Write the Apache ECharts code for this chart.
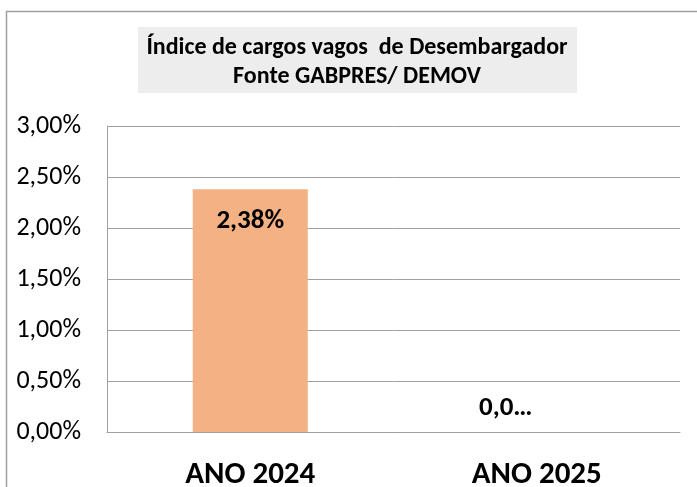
<!DOCTYPE html>
<html>
<head>
<meta charset="utf-8">
<script src="https://cdn.jsdelivr.net/npm/echarts@6/dist/echarts.min.js"></script>
<style>
  html, body { margin: 0; padding: 0; background: #fff; }
  #main { width: 697px; height: 487px; }
</style>
</head>
<body>
<div id="main"></div>
<script>
const categories = ['ANO 2024', 'ANO 2025'];
const values = [0.0238, 0];
const valueLabels = ['2,38%', '0,0…'];
const titleLines = ['Índice de cargos vagos  de Desembargador', 'Fonte GABPRES/ DEMOV'];

const font = 'Carlito, Lato, sans-serif';
const chart = echarts.init(document.getElementById('main'));

const option = {
  animation: false,
  backgroundColor: '#fff',
  graphic: [
    {
      type: 'rect',
      shape: { x: 6.5, y: 11.5, width: 720, height: 520 },
      style: { fill: 'none', stroke: '#a0a0a0', lineWidth: 1.5 },
      silent: true
    },
    {
      type: 'rect',
      shape: { x: 138, y: 27, width: 439, height: 66 },
      style: { fill: '#ededed' },
      silent: true
    },
    {
      type: 'text',
      x: 357,
      y: 62,
      style: {
        text: titleLines.join('\n'),
        font: 'bold 24px ' + font,
        fill: '#000',
        align: 'center',
        verticalAlign: 'middle',
        lineHeight: 29
      },
      silent: true
    }
  ],
  grid: { left: 107, right: 17, top: 126, bottom: 55, outerBoundsMode: 'none', containLabel: false },
  xAxis: {
    type: 'category',
    data: categories,
    axisLine: { lineStyle: { color: '#a0a0a0', width: 1 } },
    axisTick: { show: false },
    axisLabel: {
      margin: 28,
      color: '#000',
      fontFamily: font,
      fontWeight: 'bold',
      fontSize: 31
    }
  },
  yAxis: {
    type: 'value',
    min: 0,
    max: 0.03,
    interval: 0.005,
    axisLine: { show: true, lineStyle: { color: '#a0a0a0', width: 1 } },
    axisTick: { show: false },
    splitLine: { lineStyle: { color: '#a0a0a0', width: 1 } },
    axisLabel: {
      margin: 26,
      color: '#000',
      fontFamily: font,
      fontSize: 26,
      formatter: v => (v * 100).toFixed(2).replace('.', ',') + '%'
    }
  },
  series: [
    {
      type: 'bar',
      barWidth: 115,
      itemStyle: { color: '#f4b183' },
      data: values.map((v, i) => ({
        value: v,
        label: i === 0
          ? { show: true, position: 'insideTop', distance: 19 }
          : { show: true, position: 'top', distance: 10, offset: [-31, 0] }
      })),
      label: {
        color: '#000',
        fontFamily: font,
        fontWeight: 'bold',
        fontSize: 27,
        formatter: p => valueLabels[p.dataIndex]
      }
    }
  ]
};

chart.setOption(option);
</script>
</body>
</html>
